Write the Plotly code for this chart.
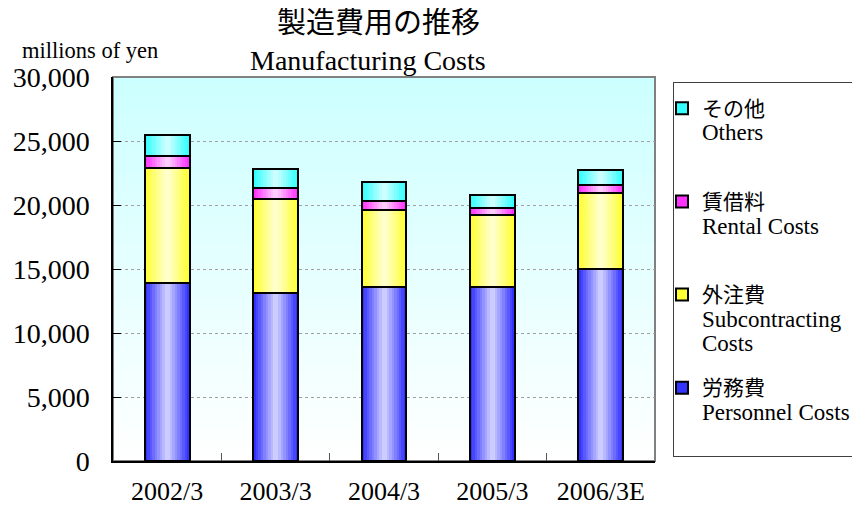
import plotly.graph_objects as go
import numpy as np

# ---------------- data ----------------
categories = ["2002/3", "2003/3", "2004/3", "2005/3", "2006/3E"]
personnel = [13900, 13100, 13600, 13600, 15000]      # 労務費
subcontracting = [9000, 7400, 6000, 5600, 5900]      # 外注費
rental = [900, 800, 700, 600, 700]                   # 賃借料
others = [1700, 1500, 1500, 1000, 1100]              # その他
y_ticks = [0, 5000, 10000, 15000, 20000, 25000, 30000]

series_names_jp = ["労務費", "外注費", "賃借料", "その他"]
series_names_en = ["Personnel Costs", "Subcontracting<br>Costs", "Rental Costs", "Others"]

# ---------------- styling ----------------
FONT = "Liberation Serif, 'Noto Sans CJK JP', serif"
edge_cols = [(0x33, 0x33, 0xFF), (0xFF, 0xFF, 0x33), (0xFF, 0x33, 0xFF), (0x33, 0xFF, 0xFF)]
center_cols = [(0xCC, 0xCC, 0xFF), (0xFF, 0xFF, 0xCC), (0xFF, 0xCC, 0xFF), (0xCC, 0xFF, 0xFF)]
BAR_W = 0.415
N_LEVELS = 9

# the page body has an 8px margin, so the figure is shrunk by that much
OFF = 8
W, H = 860 - OFF, 505 - OFF
# plot area in screen pixels
SX0, SX1, SY0, SY1 = 113, 655, 77, 461
L, R, T, B = SX0 - OFF, 860 - SX1, SY0 - OFF, 505 - SY1
PW, PH = SX1 - SX0, SY1 - SY0


def xp(px):
    return (px - SX0) / PW


def yp(py):
    return (SY1 - py) / PH


def mix(c1, c2, t):
    return "rgb(%d,%d,%d)" % tuple(round(a + (b - a) * t) for a, b in zip(c1, c2))


values = [personnel, subcontracting, rental, others]
bases = []
acc = np.zeros(len(categories))
for v in values:
    bases.append(acc.copy())
    acc = acc + np.array(v)

fig = go.Figure()

legend_ranks = [4, 3, 2, 1]
for i, (v, b) in enumerate(zip(values, bases)):
    jp = series_names_jp[i]
    en = series_names_en[i]
    nlines = 1 + en.count("<br>") + 1
    pad = "<br>\u00a0" * (3 - nlines)
    label = ('<span style="font-size:21px">%s</span><br>'
             '<span style="font-size:23px">%s</span>%s') % (jp, en, pad)
    for k in range(N_LEVELS):
        t = k / (N_LEVELS - 1)
        w = BAR_W * (1 - k / N_LEVELS)
        first = k == 0
        fig.add_trace(go.Bar(
            x=categories, y=v, base=b, width=w,
            marker=dict(color=mix(edge_cols[i], center_cols[i], t),
                        line=dict(color="black", width=2 if first else 0)),
            name=label, legendgroup="g%d" % i, legendrank=legend_ranks[i],
            showlegend=first, hoverinfo="skip",
        ))
# outlines on top
for i, (v, b) in enumerate(zip(values, bases)):
    fig.add_trace(go.Bar(
        x=categories, y=v, base=b, width=BAR_W,
        marker=dict(color="rgba(0,0,0,0)", line=dict(color="black", width=2)),
        showlegend=False, hoverinfo="skip",
    ))

# background gradient bands (top #CCFFFF -> bottom white)
shapes = []
NB = 60
for j in range(NB):
    y0 = j / NB
    y1 = (j + 1) / NB + 0.004
    t = (j + 0.5) / NB
    shapes.append(dict(type="rect", xref="x domain", yref="y domain",
                       x0=0, x1=1, y0=y0, y1=min(y1, 1),
                       fillcolor=mix((255, 255, 255), (0xCC, 0xFF, 0xFF), t),
                       line=dict(width=0), layer="below"))
# grey frame
shapes.append(dict(type="rect", xref="x domain", yref="y domain", x0=0, x1=1, y0=0, y1=1,
                   line=dict(color="#808080", width=2), fillcolor="rgba(0,0,0,0)", layer="below"))

annotations = [
    dict(text="製造費用の推移", x=xp(378), y=yp(23), xref="paper", yref="paper",
         showarrow=False, font=dict(family=FONT, size=29, color="black"),
         xanchor="center", yanchor="middle"),
    dict(text="Manufacturing Costs", x=xp(368), y=yp(60), xref="paper", yref="paper",
         showarrow=False, font=dict(family=FONT, size=28, color="black"),
         xanchor="center", yanchor="middle"),
    dict(text="millions of yen", x=xp(90), y=yp(50), xref="paper", yref="paper",
         showarrow=False, font=dict(family=FONT, size=22.5, color="black"),
         xanchor="center", yanchor="middle"),
]

fig.update_layout(
    width=W, height=H,
    margin=dict(l=L, r=R, t=T, b=B, autoexpand=False),
    barmode="overlay",
    bargap=0,
    paper_bgcolor="white",
    plot_bgcolor="white",
    font=dict(family=FONT, color="black"),
    shapes=shapes,
    annotations=annotations,
    showlegend=True,
    legend=dict(
        x=xp(673), y=yp(82), xanchor="left", yanchor="top",
        xref="paper", yref="paper",
        bgcolor="white", bordercolor="#404040", borderwidth=1,
        font=dict(family=FONT, size=19, color="black"),
        title=dict(text="\u00a0", font=dict(size=5)),
        traceorder="grouped", tracegroupgap=16, valign="top",
        indentation=-12,
        itemclick=False, itemdoubleclick=False,
    ),
    xaxis=dict(
        type="category", categoryorder="array", categoryarray=categories,
        range=[-0.5, len(categories) - 0.5], automargin=False,
        showline=True, linecolor="black", linewidth=1.5,
        ticks="inside", tickson="boundaries", ticklen=8, tickcolor="#555555",
        tickfont=dict(family=FONT, size=26, color="black"),
        showgrid=False, ticklabelstandoff=6,
    ),
    yaxis=dict(
        range=[0, 30000], tickvals=y_ticks, tickformat=",d", automargin=False,
        showline=True, linecolor="black", linewidth=1.5,
        ticks="inside", ticklen=8, tickcolor="black",
        tickfont=dict(family=FONT, size=28, color="black"),
        showgrid=True, gridcolor="#A0A0A0", griddash="3px,3px", gridwidth=1,
        zeroline=False, ticklabelstandoff=16,
    ),
)

fig.write_html("out.html")
